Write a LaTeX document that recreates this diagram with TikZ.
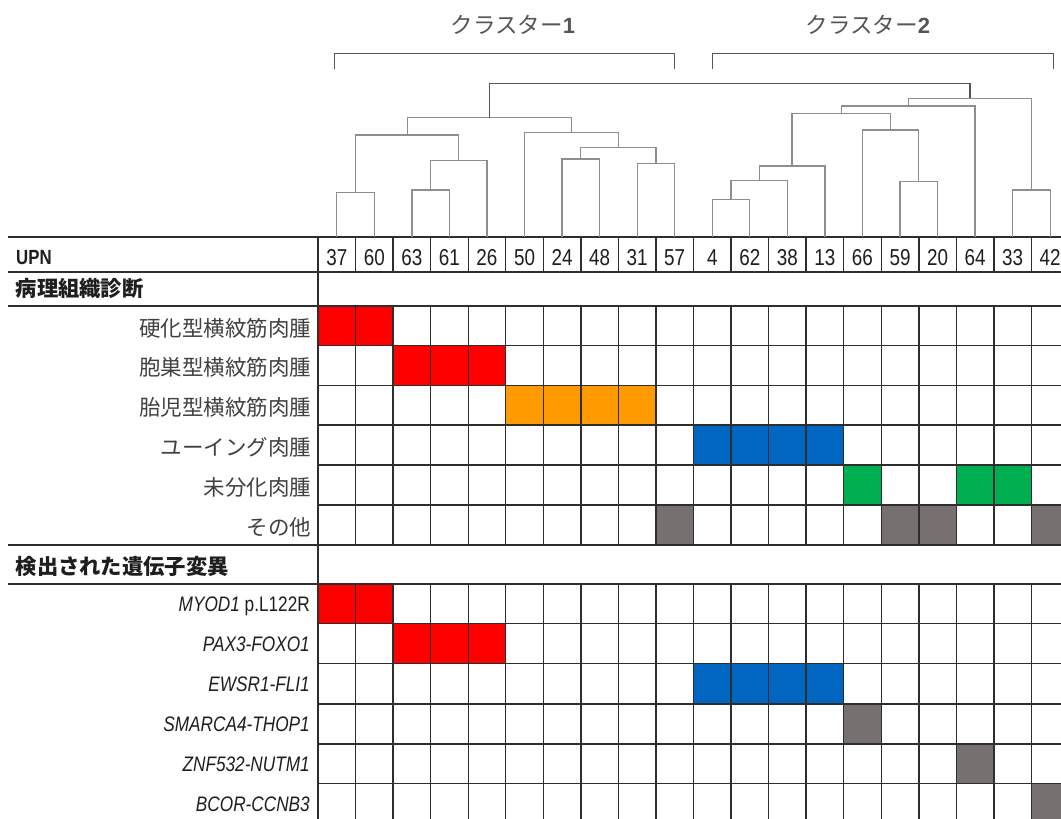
\documentclass[tikz,border=0pt]{standalone}
\usepackage{fontspec}
\setmainfont{Liberation Sans}
\newfontfamily\jp{Noto Sans CJK JP}
\newfontfamily\narrowf[FakeStretch=0.82]{Liberation Sans}
\definecolor{cred}{HTML}{FF0000}
\definecolor{corange}{HTML}{FF9A00}
\definecolor{cblue}{HTML}{0066C2}
\definecolor{cgreen}{HTML}{00B050}
\definecolor{cgray}{HTML}{767170}
\definecolor{gridc}{HTML}{2E2E2E}
\definecolor{dendc}{HTML}{8E8E8E}
\definecolor{rootc}{HTML}{555555}
\definecolor{txtc}{HTML}{404040}
\definecolor{hdrc}{HTML}{1E1E1E}
\begin{document}
\begin{tikzpicture}[x=1pt,y=-1pt,
  grid/.style={draw=gridc,line width=1.4pt},
  dend/.style={draw=dendc,line width=1.3pt},
  rootline/.style={draw=rootc,line width=1.4pt},
  bracket/.style={draw=rootc,line width=1.5pt},
  hdr/.style={anchor=base west,inner sep=0pt,text=hdrc},
  jplab/.style={anchor=base east,inner sep=0pt,text=txtc,font=\jp\fontsize{21.5}{24}\selectfont},
  genelab/.style={anchor=base east,inner sep=0pt,text=hdrc,font=\narrowf\fontsize{21}{24}\selectfont},
  upn/.style={anchor=base,inner sep=0pt,text=hdrc,font=\narrowf\fontsize{23}{26}\selectfont},
  cluslab/.style={inner sep=0pt,text=rootc}]
\useasboundingbox (0,0) rectangle (1061,819);
\clip (0,0) rectangle (1061,819);

% ---- coloured cells ----
\fill[cred]    ({318+37.55*0},306)   rectangle ({318+37.55*2},345.5);
\fill[cred]    ({318+37.55*2},345.5) rectangle ({318+37.55*5},385.5);
\fill[corange] ({318+37.55*5},385.5) rectangle ({318+37.55*9},425);
\fill[cblue]   ({318+37.55*10},425)  rectangle ({318+37.55*14},465);
\fill[cgreen]  ({318+37.55*14},465)  rectangle ({318+37.55*15},505);
\fill[cgreen]  ({318+37.55*17},465)  rectangle ({318+37.55*19},505);
\fill[cgray]   ({318+37.55*9},505)   rectangle ({318+37.55*10},545);
\fill[cgray]   ({318+37.55*15},505)  rectangle ({318+37.55*17},545);
\fill[cgray]   ({318+37.55*19},505)  rectangle ({318+37.55*20},545);
\fill[cred]    ({318+37.55*0},584)   rectangle ({318+37.55*2},623.5);
\fill[cred]    ({318+37.55*2},623.5) rectangle ({318+37.55*5},663.5);
\fill[cblue]   ({318+37.55*10},663.5) rectangle ({318+37.55*14},704);
\fill[cgray]   ({318+37.55*14},704)  rectangle ({318+37.55*15},744);
\fill[cgray]   ({318+37.55*17},744)  rectangle ({318+37.55*18},783.5);
\fill[cgray]   ({318+37.55*19},783.5) rectangle ({318+37.55*20},823);

% ---- grid ----
\foreach \y in {237,272,306,545,584} \draw[grid] (8,\y) -- (1061,\y);
\foreach \y in {345.5,385.5,425,465,505,623.5,663.5,704,744,783.5} \draw[grid] (318,\y) -- (1061,\y);
\draw[grid] (318,237) -- (318,823);
\foreach \i in {1,...,19} {
  \draw[grid] ({318+37.55*\i},237) -- ({318+37.55*\i},272);
  \draw[grid] ({318+37.55*\i},306) -- ({318+37.55*\i},545);
  \draw[grid] ({318+37.55*\i},584) -- ({318+37.55*\i},823);
}

% ---- UPN numbers ----
\foreach \n [count=\k from 0] in {37,60,63,61,26,50,24,48,31,57,4,62,38,13,66,59,20,64,33,42}
  \node[upn] (upn\k) at ({318+37.55*(\k+0.5)},265) {\n};

% ---- left labels ----
\node[hdr,font=\narrowf\bfseries\fontsize{20.5}{24}\selectfont] (hupn) at (16,264.5) {UPN};
\node[hdr,font=\jp\bfseries\fontsize{21.3}{24}\selectfont] (hpath) at (15.5,296.5) {病理組織診断};
\node[hdr,font=\jp\bfseries\fontsize{21.3}{24}\selectfont] (hgene) at (15.5,574) {検出された遺伝子変異};

\node[jplab] (p1) at (311.5,336.5) {硬化型横紋筋肉腫};
\node[jplab] (p2) at (311.5,375.5) {胞巣型横紋筋肉腫};
\node[jplab] (p3) at (311.5,415) {胎児型横紋筋肉腫};
\node[jplab] (p4) at (311.5,455.5) {ユーイング肉腫};
\node[jplab] (p5) at (311.5,495.5) {未分化肉腫};
\node[jplab] (p6) at (311.5,535) {その他};

\node[genelab] (g1) at (310,611.8) {\textit{MYOD1} p.L122R};
\node[genelab] (g2) at (310,651) {\textit{PAX3-FOXO1}};
\node[genelab] (g3) at (310,691.5) {\textit{EWSR1-FLI1}};
\node[genelab] (g4) at (310,731.5) {\textit{SMARCA4-THOP1}};
\node[genelab] (g5) at (310,771.5) {\textit{ZNF532-NUTM1}};
\node[genelab] (g6) at (310,811) {\textit{BCOR-CCNB3}};

% ---- cluster labels and brackets ----
\node[cluslab] (c1lab) at (513,24.5) {{\jp\fontsize{22.5}{26}\selectfont クラスター}{\bfseries\fontsize{22}{26}\selectfont 1}};
\node[cluslab] (c2lab) at (868,24.5) {{\jp\fontsize{22.5}{26}\selectfont クラスター}{\bfseries\fontsize{22}{26}\selectfont 2}};
\coordinate (b1l) at (334.3,69.3);
\coordinate (b1r) at (674.3,69.3);
\coordinate (b1m) at (504,53.3);
\coordinate (b2l) at (712.7,69.3);
\coordinate (b2r) at (1053.3,69.3);
\coordinate (b2m) at (883,53.3);
\draw[bracket] (b1l) |- (b1m) -| (b1r);
\draw[bracket] (b2l) |- (b2m) -| (b2r);

% ---- dendrogram ----
\foreach \i in {0,...,19} \coordinate (L\i) at ({318+37.55*(\i+0.5)},237);
\coordinate (m1) at (355.5,192.3);
\coordinate (m2) at (430.6,190);
\coordinate (m3) at (458.8,160.7);
\coordinate (m4) at (407.2,135);
\coordinate (m5) at (580.8,159);
\coordinate (m6) at (656,163.3);
\coordinate (m7) at (618.4,147.7);
\coordinate (m8) at (571.5,132.7);
\coordinate (m9) at (489.3,117.7);
\coordinate (n1) at (731,199.3);
\coordinate (n2) at (759.2,180.7);
\coordinate (n3) at (792,166);
\coordinate (n4) at (918.8,181.7);
\coordinate (n5) at (890.6,130);
\coordinate (n6) at (841.3,113.3);
\coordinate (n7) at (908.2,106);
\coordinate (n8) at (1031.4,190);
\coordinate (n9) at (969.8,98.3);
\coordinate (root) at (729.5,83.3);

\draw[dend] (L0) |- (m1) -| (L1);
\draw[dend] (L2) |- (m2) -| (L3);
\draw[dend] (m2) |- (m3) -| (L4);
\draw[dend] (m1) |- (m4) -| (m3);
\draw[dend] (L6) |- (m5) -| (L7);
\draw[dend] (L8) |- (m6) -| (L9);
\draw[dend] (m5) |- (m7) -| (m6);
\draw[dend] (L5) |- (m8) -| (m7);
\draw[dend] (m4) |- (m9) -| (m8);
\draw[dend] (L10) |- (n1) -| (L11);
\draw[dend] (n1) |- (n2) -| (L12);
\draw[dend] (n2) |- (n3) -| (L13);
\draw[dend] (L15) |- (n4) -| (L16);
\draw[dend] (L14) |- (n5) -| (n4);
\draw[dend] (n3) |- (n6) -| (n5);
\draw[dend] (n6) |- (n7) -| (L17);
\draw[dend] (L18) |- (n8) -| (L19);
\draw[dend] (n7) |- (n9) -| (n8);
\draw[rootline] (m9) |- (root) -| (n9);
\end{tikzpicture}
\end{document}
